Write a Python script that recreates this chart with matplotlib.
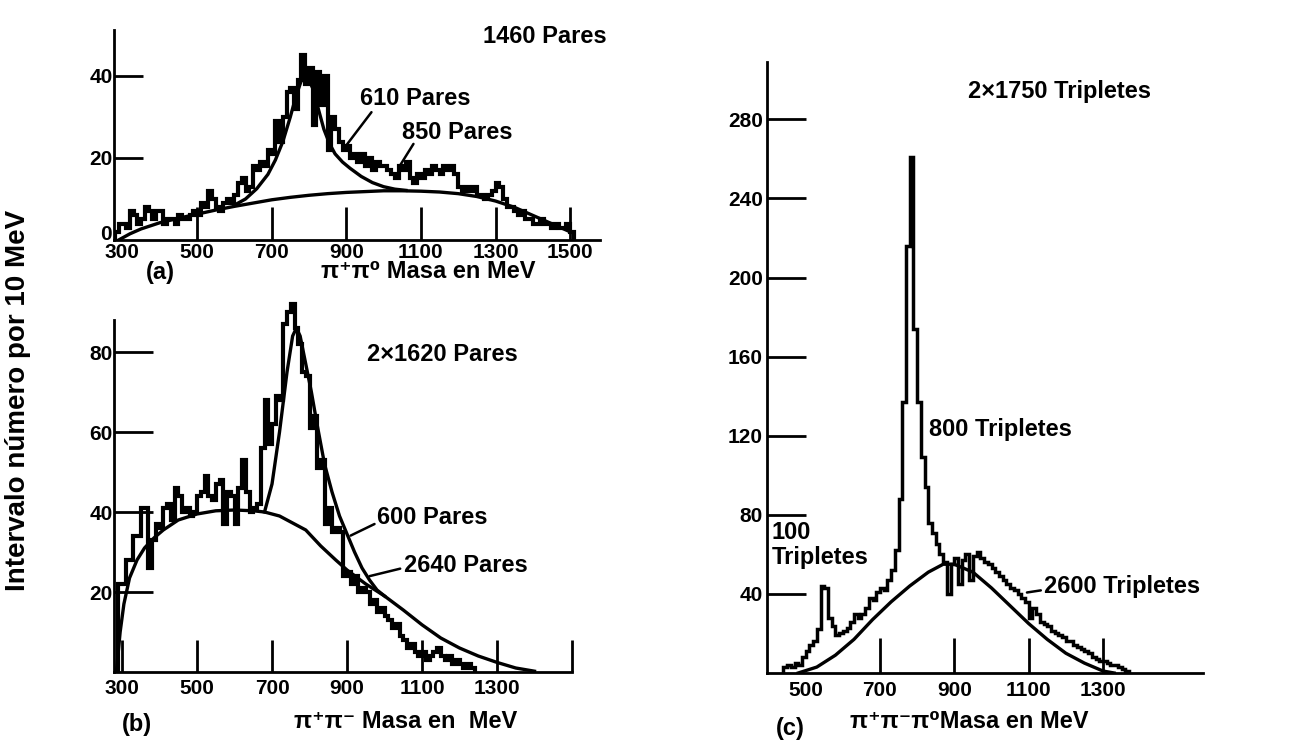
import numpy as np
import matplotlib
matplotlib.use('Agg')
import matplotlib.pyplot as plt
from matplotlib import font_manager
from matplotlib.transforms import ScaledTranslation

# Espectros de masa invariante, intervalos de 10 MeV
ancho_bin = 10

# Panel (a) : pi+ pi0
inicio_a = 280
cuentas_a = [2, 4, 4, 3, 7, 6, 4, 5, 8, 7,
             5, 7, 7, 4, 5, 5, 4, 6, 5, 5,
             6, 7, 6, 9, 8, 12, 10, 8, 7, 9,
             10, 9, 11, 14, 15, 12, 13, 18, 17, 19,
             18, 22, 21, 29, 24, 30, 36, 37, 32, 39,
             45, 38, 42, 28, 41, 33, 40, 22, 30, 27,
             24, 22, 23, 20, 21, 19, 21, 18, 20, 17,
             19, 18, 18, 17, 16, 15, 18, 17, 19, 15,
             14, 16, 15, 17, 16, 18, 17, 16, 18, 17,
             18, 16, 13, 12, 13, 12, 13, 11, 11, 10,
             11, 12, 14, 13, 10, 8, 8, 7, 6, 7,
             5, 5, 4, 4, 5, 4, 4, 3, 4, 3,
             3, 4, 2]
masa_fondo_a = [290, 320, 350, 400, 450, 500, 550, 600, 650, 700, 750, 800, 850,
                900, 950, 1000, 1050, 1100, 1150, 1200, 1250, 1300, 1350, 1400, 1450, 1500]
fondo_a = [0, 1.5, 2.7, 4.2, 5.3, 6.3, 7.3, 8.2, 9.0, 9.8, 10.4, 10.9, 11.3,
           11.6, 11.8, 12.0, 12.0, 11.9, 11.7, 11.3, 10.6, 9.5, 8.0, 6.0, 4.0, 2.0]
masa_ajuste_a = [600, 630, 660, 690, 710, 730, 750, 765, 780, 795, 810, 825, 840,
                 855, 870, 890, 910, 940, 970, 1000, 1030, 1060]
ajuste_a = [8.5, 10, 12.5, 16, 19.5, 24, 30, 35, 39, 40, 37, 32, 27,
            23.5, 21, 19, 17.5, 15.5, 14, 13, 12.4, 12.1]

# Panel (b) : pi+ pi-
inicio_b = 290
cuentas_b = [22, 22, 28, 28, 34, 34, 41, 41, 26, 33,
             37, 36, 41, 42, 38, 46, 44, 40, 41, 39,
             40, 44, 45, 49, 44, 43, 47, 48, 37, 45,
             44, 37, 46, 53, 45, 40, 41, 42, 56, 68,
             57, 62, 69, 68, 87, 90, 92, 86, 82, 75,
             74, 61, 64, 51, 53, 37, 41, 35, 36, 35,
             24, 25, 22, 24, 20, 21, 20, 17, 18, 15,
             16, 14, 13, 11, 12, 9, 8, 6, 7, 5,
             4, 5, 3, 4, 5, 6, 4, 3, 4, 2,
             3, 2, 1, 2, 1]
masa_fondo_b = [285, 295, 305, 320, 340, 360, 385, 410, 450, 500, 550, 600, 650, 680,
                720, 760, 790, 830, 870, 900, 950, 1000, 1050, 1100, 1150, 1200,
                1250, 1300, 1350, 1400]
fondo_b = [0, 10, 17, 23.5, 28, 31, 33.5, 35.5, 38, 39.5, 40.3, 40.5, 40.3, 40,
           39, 37, 35.5, 31.5, 28, 25.5, 22, 19, 15.5, 11.8, 8.5, 6,
           4, 2.4, 1.0, 0.2]
masa_ajuste_b = [680, 700, 720, 740, 755, 765, 775, 790, 805, 820, 840, 860, 880,
                 900, 920, 940, 960, 980, 1000]
ajuste_b = [40, 47, 60, 75, 84, 86, 84, 77, 70, 62, 52, 45, 39,
            34.5, 30, 26, 23, 20.5, 19]

# Panel (c) : pi+ pi- pi0
inicio_c = 440
cuentas_c = [3, 4, 3, 5, 4, 8, 11, 14, 16, 22,
             44, 43, 28, 24, 19, 20, 21, 23, 26, 30,
             28, 30, 33, 38, 37, 41, 43, 42, 47, 52,
             62, 88, 137, 216, 261, 174, 137, 109, 94, 76,
             71, 65, 60, 56, 40, 55, 58, 45, 57, 60,
             47, 59, 61, 58, 56, 55, 53, 51, 49, 47,
             45, 43, 42, 40, 38, 36, 28, 33, 30, 26,
             25, 24, 21, 20, 19, 18, 16, 16, 14, 13,
             12, 11, 10, 8, 7, 6, 6, 5, 4, 4,
             3, 2, 1]
masa_fondo_c = [480, 530, 580, 630, 680, 730, 780, 830, 870, 900, 950, 1000,
                1050, 1100, 1150, 1200, 1250, 1300, 1330]
fondo_c = [0, 3, 9, 17, 27, 36, 44, 51, 55, 55, 51, 43,
           34, 25, 17, 10, 5, 1, 0]

W, H = 1298, 750
nombres = {f.name for f in font_manager.fontManager.ttflist}
fuente = 'Liberation Sans' if 'Liberation Sans' in nombres else 'DejaVu Sans'
fuente_ticks = 'Liberation Sans Narrow' if 'Liberation Sans Narrow' in nombres else fuente
plt.rcParams['font.family'] = [fuente, 'DejaVu Sans']
plt.rcParams['font.weight'] = 'bold'

fig = plt.figure(figsize=(W / 100, H / 100), dpi=100)
fig.patch.set_facecolor('white')


def caja(x0, x1, y_arriba, y_abajo):
    # rectangulo de ejes a partir de pixeles de la imagen
    return [x0 / W, 1 - y_abajo / H, (x1 - x0) / W, (y_abajo - y_arriba) / H]


def estilo(ax, largo_x, largo_y, pad_x, pad_y):
    for lado in ['top', 'right']:
        ax.spines[lado].set_visible(False)
    for lado in ['left', 'bottom']:
        ax.spines[lado].set_linewidth(2.0)
    ax.tick_params(axis='x', direction='in', length=largo_x, width=2.0, pad=pad_x, labelsize=15)
    ax.tick_params(axis='y', direction='in', length=largo_y, width=2.0, pad=pad_y, labelsize=15)
    for lbl in ax.get_xticklabels() + ax.get_yticklabels():
        lbl.set_family([fuente_ticks, 'DejaVu Sans'])
        lbl.set_fontweight('bold')
    ax.set_facecolor('none')


def bordes(inicio, cuentas):
    return inicio + ancho_bin * np.arange(len(cuentas) + 1)


# ---------- (a)
ax_a = fig.add_axes(caja(114, 600, 30, 240))
ax_a.stairs(cuentas_a, bordes(inicio_a, cuentas_a), color='black', lw=3.0, baseline=0)
ax_a.plot(masa_fondo_a, fondo_a, color='black', lw=2.4)
ax_a.plot(masa_ajuste_a, ajuste_a, color='black', lw=2.4)
ax_a.set_xlim(277.5, 1580)
ax_a.set_ylim(0, 51.2)
ax_a.set_xticks([300, 500, 700, 900, 1100, 1300, 1500])
ax_a.set_yticks([0, 20, 40])
estilo(ax_a, 24, 21, 2, 1)
ax_a.xaxis.get_major_ticks()[0].tick1line.set_visible(False)
ax_a.yaxis.get_major_ticks()[0].tick1line.set_visible(False)
# el "0" va un poco por encima del eje, como en el original
cero = ax_a.get_yticklabels()[0]
cero.set_transform(cero.get_transform() + ScaledTranslation(-1 / 100, 7 / 100, fig.dpi_scale_trans))
ax_a.text(1433, 49.5, '1460 Pares', ha='center', va='center', fontsize=17)
ax_a.text(1084, 34.6, '610 Pares', ha='center', va='center', fontsize=17)
ax_a.text(1197, 26.1, '850 Pares', ha='center', va='center', fontsize=17)
ax_a.annotate('', xy=(891, 22), xytext=(972, 31.7),
              arrowprops=dict(arrowstyle='-', lw=1.8, color='black'))
ax_a.annotate('', xy=(1036, 17), xytext=(1084, 24),
              arrowprops=dict(arrowstyle='-', lw=1.8, color='black'))
fig.text(160 / W, 1 - 272 / H, '(a)', ha='center', va='center', fontsize=17)
fig.text(428 / W, 1 - 272 / H, 'π⁺π⁰ Masa en MeV', ha='center', va='center', fontsize=17)

# ---------- (b)
ax_b = fig.add_axes(caja(114, 575, 290, 672))
ax_b.stairs(cuentas_b, bordes(inicio_b, cuentas_b), color='black', lw=3.0, baseline=0)
ax_b.plot(masa_fondo_b, fondo_b, color='black', lw=2.4)
ax_b.plot(masa_ajuste_b, ajuste_b, color='black', lw=2.4)
ax_b.set_xlim(278.6, 1508)
ax_b.set_ylim(0, 95.5)
ax_b.spines['left'].set_bounds(0, 88)
ax_b.spines['bottom'].set_bounds(278.6, 1500)
ax_b.set_xticks([300, 500, 700, 900, 1100, 1300, 1500])
ax_b.set_xticklabels(['300', '500', '700', '900', '1100', '1300', ''])
ax_b.set_yticks([20, 40, 60, 80])
estilo(ax_b, 23, 28, 5, 1)
ax_b.text(1153, 79.5, '2×1620 Pares', ha='center', va='center', fontsize=17)
ax_b.text(1127, 38.5, '600 Pares', ha='center', va='center', fontsize=17)
ax_b.text(1217, 26.75, '2640 Pares', ha='center', va='center', fontsize=17)
ax_b.annotate('', xy=(903, 33.8), xytext=(980, 37.3),
              arrowprops=dict(arrowstyle='-', lw=1.8, color='black'))
ax_b.annotate('', xy=(953, 23.8), xytext=(1049, 26),
              arrowprops=dict(arrowstyle='-', lw=1.8, color='black'))
fig.text(137 / W, 1 - 725 / H, '(b)', ha='center', va='center', fontsize=17)
fig.text(406 / W, 1 - 722 / H, 'π⁺π⁻ Masa en  MeV', ha='center', va='center', fontsize=17)

# ---------- (c)
ax_c = fig.add_axes(caja(767, 1203, 62, 673))
ax_c.stairs(cuentas_c, bordes(inicio_c, cuentas_c), color='black', lw=2.5, baseline=0)
ax_c.plot(masa_fondo_c, fondo_c, color='black', lw=2.4)
ax_c.set_xlim(396, 1569)
ax_c.set_ylim(0, 309)
ax_c.set_xticks([500, 700, 900, 1100, 1300])
ax_c.set_yticks([40, 80, 120, 160, 200, 240, 280])
estilo(ax_c, 25, 28, 6, 3)
ax_c.xaxis.get_major_ticks()[0].tick1line.set_visible(False)
ax_c.text(1184, 294, '2×1750 Tripletes', ha='center', va='center', fontsize=17)
ax_c.text(1023, 123, '800 Tripletes', ha='center', va='center', fontsize=17)
ax_c.text(409, 71.3, '100', ha='left', va='center', fontsize=17)
ax_c.text(409, 58.2, 'Tripletes', ha='left', va='center', fontsize=17)
ax_c.text(1140, 43.5, '2600 Tripletes', ha='left', va='center', fontsize=17)
ax_c.annotate('', xy=(1088, 40.5), xytext=(1140, 42),
              arrowprops=dict(arrowstyle='-', lw=1.8, color='black'))
fig.text(790 / W, 1 - 728 / H, '(c)', ha='center', va='center', fontsize=17)
fig.text(969 / W, 1 - 722 / H, 'π⁺π⁻π⁰Masa en MeV', ha='center', va='center', fontsize=17)

# eje vertical comun
fig.text(18 / W, 1 - 400 / H, 'Intervalo número por 10 MeV', rotation=90,
         ha='center', va='center', fontsize=20)

fig.savefig('out.png', dpi=100, facecolor='white')
